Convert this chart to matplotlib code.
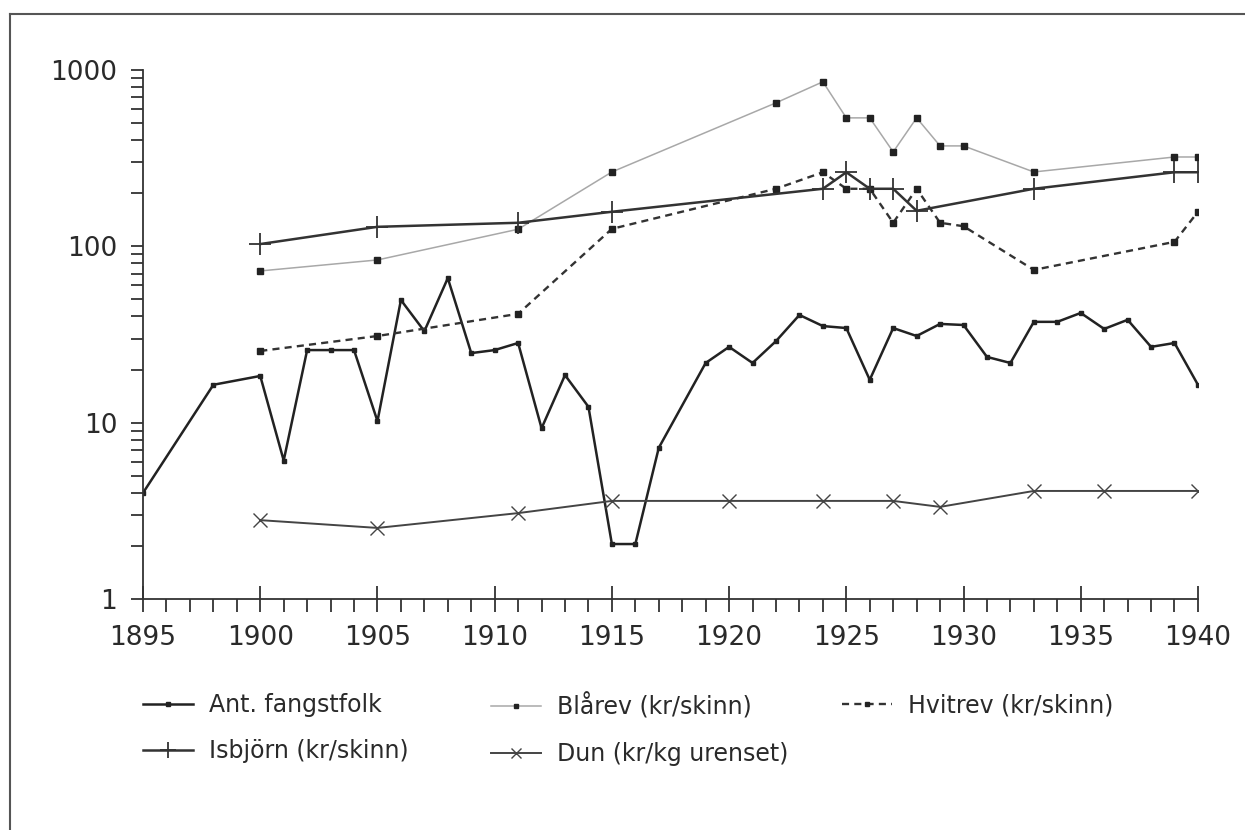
import matplotlib.pyplot as plt
import numpy as np
from matplotlib.ticker import LogLocator, FixedLocator, NullFormatter
from matplotlib.lines import Line2D

plt.rcParams['font.family'] = ['DejaVu Sans']

# Ant. fangstfolk (number of trappers)
folk_years = [1895, 1898, 1900, 1901, 1902, 1903, 1904, 1905, 1906, 1907, 1908, 1909, 1910,
              1911, 1912, 1913, 1914, 1915, 1916, 1917, 1919, 1920, 1921, 1922, 1923, 1924,
              1925, 1926, 1927, 1928, 1929, 1930, 1931, 1932, 1933, 1934, 1935, 1936, 1937,
              1938, 1939, 1940]
folk = [4, 16.4, 18.4, 6.1, 25.8, 25.8, 25.8, 10.2, 49.6, 33, 66, 24.8, 25.8,
        28.3, 9.3, 18.6, 12.3, 2.05, 2.05, 7.2, 21.8, 26.9, 21.8, 29, 40.8, 35.3,
        34.4, 17.5, 34.4, 31, 36.3, 35.8, 23.6, 21.8, 37.3, 37.3, 41.9, 34, 38.3,
        26.9, 28.3, 16.4]

# Blårev (kr/skinn)
blarev_years = [1900, 1905, 1911, 1915, 1922, 1924, 1925, 1926, 1927, 1928, 1929, 1930, 1933, 1939, 1940]
blarev = [72.5, 83.7, 125, 264, 651, 857, 535, 535, 343, 535, 371, 371, 264, 321, 321]

# Hvitrev (kr/skinn)
hvitrev_years = [1900, 1905, 1911, 1915, 1922, 1924, 1925, 1926, 1927, 1928, 1929, 1930, 1933, 1939, 1940]
hvitrev = [25.5, 31, 41.4, 125.6, 212, 263, 212, 212, 136, 212, 136, 130, 73.5, 106, 157]

# Isbjörn (kr/skinn)
isbjorn_years = [1900, 1905, 1911, 1915, 1924, 1925, 1926, 1927, 1928, 1933, 1939, 1940]
isbjorn = [103, 129, 136, 157, 212, 263, 212, 212, 159, 212, 263, 263]

# Dun (kr/kg urenset)
dun_years = [1900, 1905, 1911, 1915, 1920, 1924, 1927, 1929, 1933, 1936, 1940]
dun = [2.8, 2.53, 3.07, 3.6, 3.6, 3.6, 3.6, 3.33, 4.1, 4.1, 4.1]

fig = plt.figure(figsize=(12.45, 8.3), dpi=100)
ax = fig.add_axes([0.1149, 0.2783, 0.8473, 0.6374])

h_folk, = ax.plot(folk_years, folk, color='#222222', lw=1.8, marker='s', ms=3.5,
                  label='Ant. fangstfolk')
h_bla, = ax.plot(blarev_years, blarev, color='#a8a8a8', lw=1.1, marker='s', ms=4.5,
                 mfc='#222222', mec='#222222', label='Blårev (kr/skinn)')
h_hvit, = ax.plot(hvitrev_years, hvitrev, color='#333333', lw=1.7, ls=(0, (3, 2.2)),
                  marker='s', ms=4.5, mfc='#222222', mec='#222222', label='Hvitrev (kr/skinn)')
h_isb, = ax.plot(isbjorn_years, isbjorn, color='#333333', lw=1.8, marker='+', ms=16,
                 mew=1.3, label='Isbjörn (kr/skinn)')
h_dun, = ax.plot(dun_years, dun, color='#444444', lw=1.4, marker='x', ms=10,
                 mew=1.0, label='Dun (kr/kg urenset)')

ax.set_yscale('log')
ax.set_ylim(1, 1000)
ax.set_xlim(1895, 1940)
ax.set_yticks([1, 10, 100, 1000])
ax.set_yticklabels(['1', '10', '100', '1000'])
ax.yaxis.set_minor_locator(LogLocator(base=10, subs=np.arange(2, 10)))
ax.yaxis.set_minor_formatter(NullFormatter())
ax.set_xticks(np.arange(1895, 1941, 5))
ax.xaxis.set_minor_locator(FixedLocator(np.arange(1895, 1941, 1)))

for s in ['top', 'right']:
    ax.spines[s].set_visible(False)
for s in ['left', 'bottom']:
    ax.spines[s].set_color('#333333')
    ax.spines[s].set_linewidth(1.3)

ax.tick_params(axis='y', which='both', direction='out', length=8.5, width=1.3,
               color='#333333', labelsize=19, pad=10, labelcolor='#2a2a2a')
ax.tick_params(axis='x', which='major', direction='inout', length=19, width=1.3,
               color='#333333', labelsize=19, pad=9, labelcolor='#2a2a2a')
ax.tick_params(axis='x', which='minor', direction='out', length=9, width=1.3,
               color='#333333')

# legend laid out as three columns, filled row by row
columns = [([h_folk, h_isb], 143), ([h_bla, h_dun], 491), ([h_hvit], 842)]
for hs, xpix in columns:
    leg = fig.legend(handles=hs, labels=[h.get_label() for h in hs],
                     loc='upper left', bbox_to_anchor=(xpix / 1245, 1 - 693 / 830),
                     frameon=False, fontsize=17, handlelength=2.1, handletextpad=0.7,
                     labelspacing=0.95, borderpad=0, borderaxespad=0, markerscale=0.75)
    for t in leg.get_texts():
        t.set_color('#2a2a2a')

# outer frame: left and top edges
fig.add_artist(Line2D([10 / 1245, 10 / 1245], [0, 1 - 14 / 830], transform=fig.transFigure,
                      color='#555555', lw=1.5))
fig.add_artist(Line2D([10 / 1245, 1], [1 - 14 / 830, 1 - 14 / 830], transform=fig.transFigure,
                      color='#555555', lw=1.5))

fig.savefig('out.png', dpi=100)
